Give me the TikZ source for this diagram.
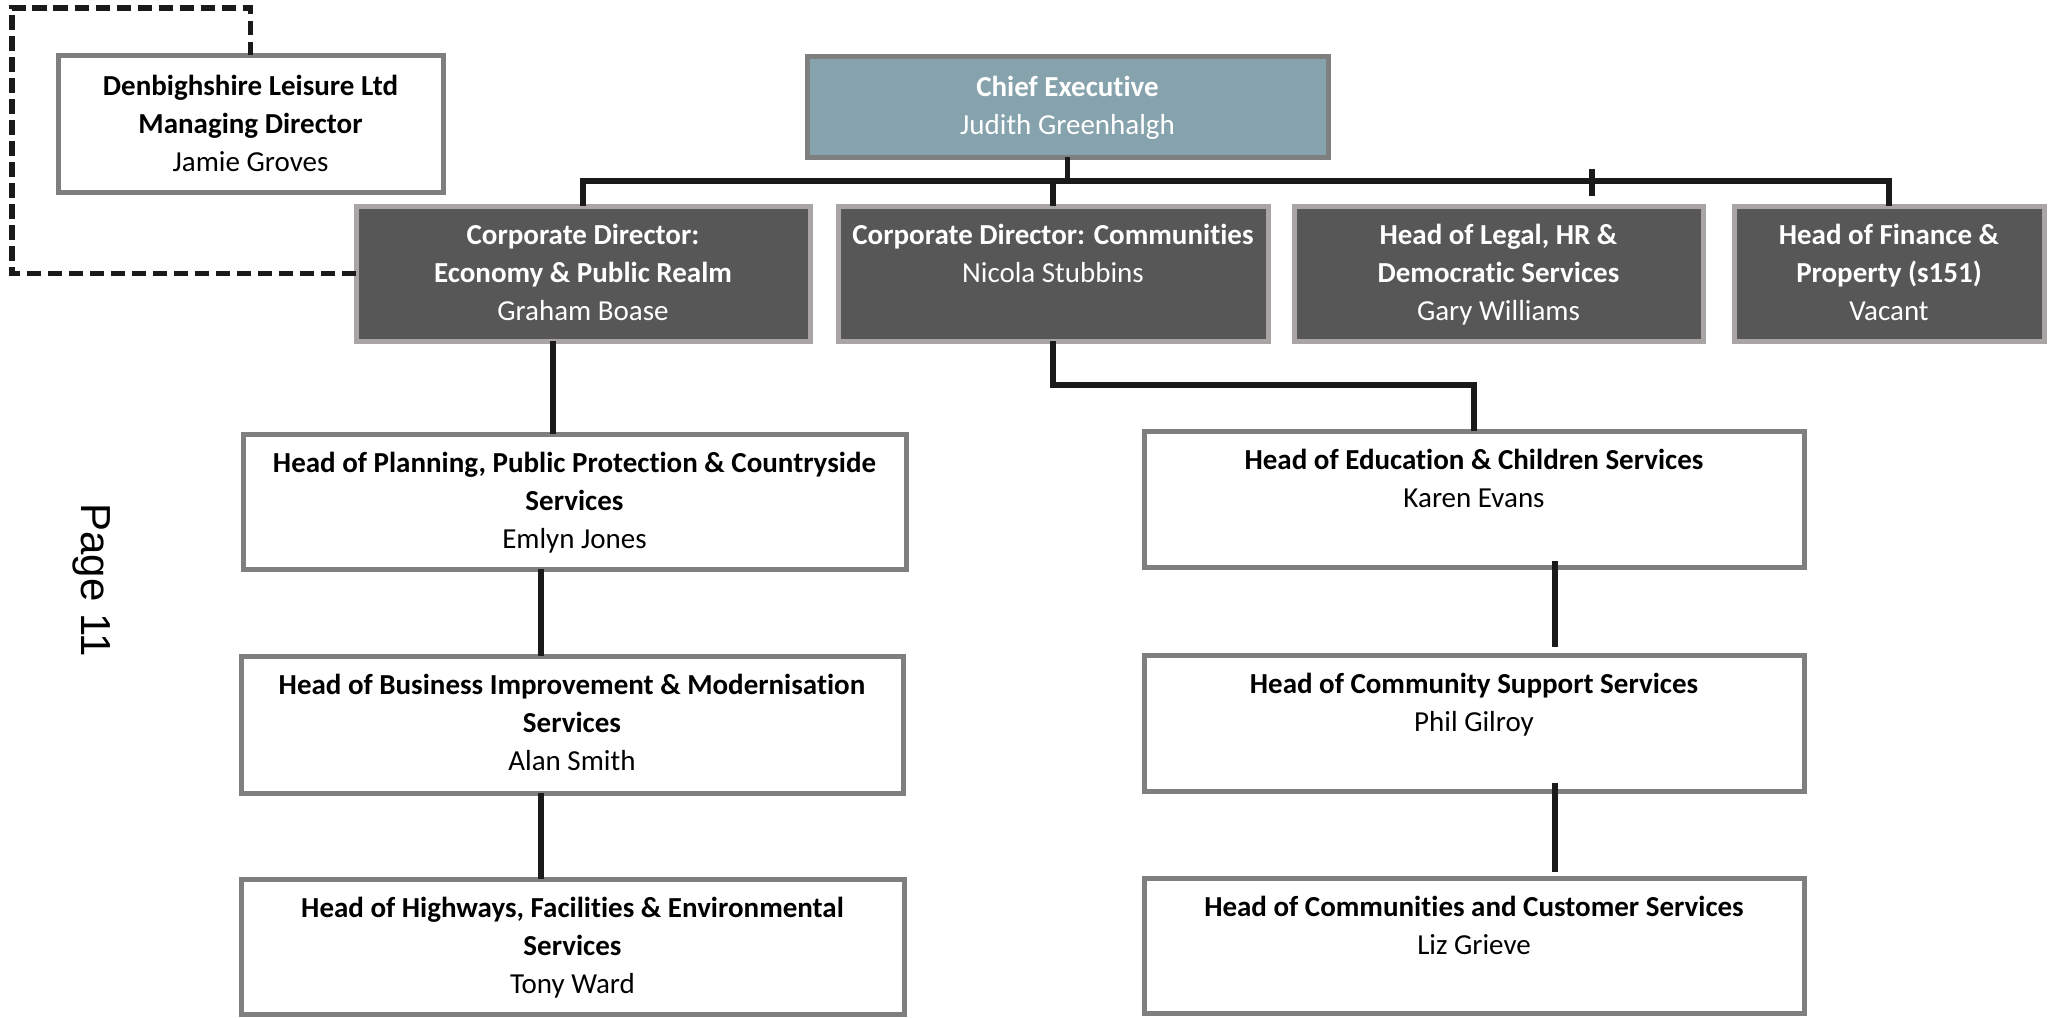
\documentclass[tikz,border=0pt]{standalone}
\usepackage{fontspec}
\setmainfont{Carlito}[RawFeature={-liga;-clig;-calt;-dlig}]
\newfontfamily\pagefont{Liberation Sans}
\definecolor{darkfill}{HTML}{575757}
\definecolor{darkborder}{HTML}{A9A5A5}
\definecolor{grayborder}{HTML}{7F7F7F}
\definecolor{chieffill}{HTML}{86A2AD}
\definecolor{linecol}{HTML}{1A1A1A}
% name, x1, y1, x2, y2, box style, text style, text
\newcommand\orgbox[8]{%
  \node[#6, minimum width={(#4-#2)*0.5pt}, minimum height={(#5-#3)*0.5pt}] (#1) at ({(#2+#4)/2},{(#3+#5)/2}) {};
  \node[#7, anchor=north] (#1-t) at (#1.north) {\rule{0pt}{19pt}#8};
}
\begin{document}
\begin{tikzpicture}[x=0.5pt,y=-0.5pt,
  basebox/.style={rectangle, line width=2.5pt, inner sep=0pt, outer sep=0pt},
  darkbox/.style={basebox, draw=darkborder, fill=darkfill},
  whitebox/.style={basebox, draw=grayborder, fill=white},
  chiefbox/.style={basebox, draw=grayborder, fill=chieffill},
  wtext/.style={text=white, align=center, inner sep=0pt, font=\fontsize{14.5}{19}\selectfont},
  btext/.style={text=black, align=center, inner sep=0pt, font=\fontsize{14.5}{19}\selectfont},
  wtextlow/.style={wtext, yshift=-1.2pt},
  btextlow/.style={btext, yshift=-1.2pt},
  conn/.style={draw=linecol, line width=2.6pt},
  dashconn/.style={conn, dash pattern=on 7.2pt off 3.3pt}
]
\fill[white] (0,0) rectangle (2054,1017);
\useasboundingbox (0,0) rectangle (2054,1017);

\orgbox{leisure}{58}{55}{443}{192}{whitebox}{btextlow}{\textbf{Denbighshire Leisure Ltd}\\\textbf{Managing Director}\\Jamie Groves}
\orgbox{chief}{807}{56}{1328}{157}{chiefbox}{wtextlow}{\textbf{Chief Executive}\\Judith Greenhalgh}
\orgbox{econ}{356}{206}{810}{341}{darkbox}{wtext}{\textbf{Corporate Director:}\\\textbf{Economy \& Public Realm}\\Graham Boase}
\orgbox{comm}{838}{206}{1268}{341}{darkbox}{wtext}{\textbf{Corporate Director: Communities}\\Nicola Stubbins}
\orgbox{legal}{1294}{206}{1703}{341}{darkbox}{wtext}{\textbf{Head of Legal, HR \&}\\\textbf{Democratic Services}\\Gary Williams}
\orgbox{fin}{1734}{206}{2044}{341}{darkbox}{wtext}{\textbf{Head of Finance \&}\\\textbf{Property (s151)}\\Vacant}
\orgbox{plan}{243}{434}{906}{569}{whitebox}{btext}{\textbf{Head of Planning, Public Protection \& Countryside}\\\textbf{Services}\\Emlyn Jones}
\orgbox{bus}{241}{656}{903}{793}{whitebox}{btext}{\textbf{Head of Business Improvement \& Modernisation}\\\textbf{Services}\\Alan Smith}
\orgbox{hwy}{241}{879}{904}{1014}{whitebox}{btext}{\textbf{Head of Highways, Facilities \& Environmental}\\\textbf{Services}\\Tony Ward}
\orgbox{edu}{1144}{431}{1804}{567}{whitebox}{btext}{\textbf{Head of Education \& Children Services}\\Karen Evans}
\orgbox{sup}{1144}{655}{1804}{791}{whitebox}{btext}{\textbf{Head of Community Support Services}\\Phil Gilroy}
\orgbox{cust}{1144}{878}{1804}{1013}{whitebox}{btext}{\textbf{Head of Communities and Customer Services}\\Liz Grieve}

\node[font=\pagefont\fontsize{21}{21}\selectfont, rotate=-90, inner sep=0pt] (pg) at (92,580) {Page 11};

% top bar
\coordinate (barY) at (0,181);
\draw[conn] (chief.south) -- (chief.south |- barY);
\draw[conn] (econ.north) -- (econ.north |- barY) -- (fin.north |- barY) -- (fin.north);
\draw[conn] (comm.north) -- (comm.north |- barY);
\coordinate (tickT) at (1592,169);
\coordinate (tickB) at (1592,196);
\draw[conn] (tickT) -- (tickB);

% left column
\coordinate (lx1) at (553,0);
\coordinate (lx2) at (541,0);
\draw[conn] (econ.south -| lx1) -- (plan.north -| lx1);
\draw[conn] (plan.south -| lx2) -- (bus.north -| lx2);
\draw[conn] (bus.south -| lx2) -- (hwy.north -| lx2);

% right column
\draw[conn] (comm.south) -- ++(0,44) -| (edu.north);
\coordinate (lx3) at (1555,0);
\coordinate (e1) at ([yshift=3pt]edu.south);
\coordinate (s1) at ([yshift=4pt]sup.north);
\coordinate (s2) at ([yshift=4pt]sup.south);
\coordinate (c1) at ([yshift=3pt]cust.north);
\draw[conn] (e1 -| lx3) -- (s1 -| lx3);
\draw[conn] (s2 -| lx3) -- (c1 -| lx3);

% dashed link
\draw[dashconn] (econ.west) -| (12,8) -| (leisure.north);
\end{tikzpicture}
\end{document}
